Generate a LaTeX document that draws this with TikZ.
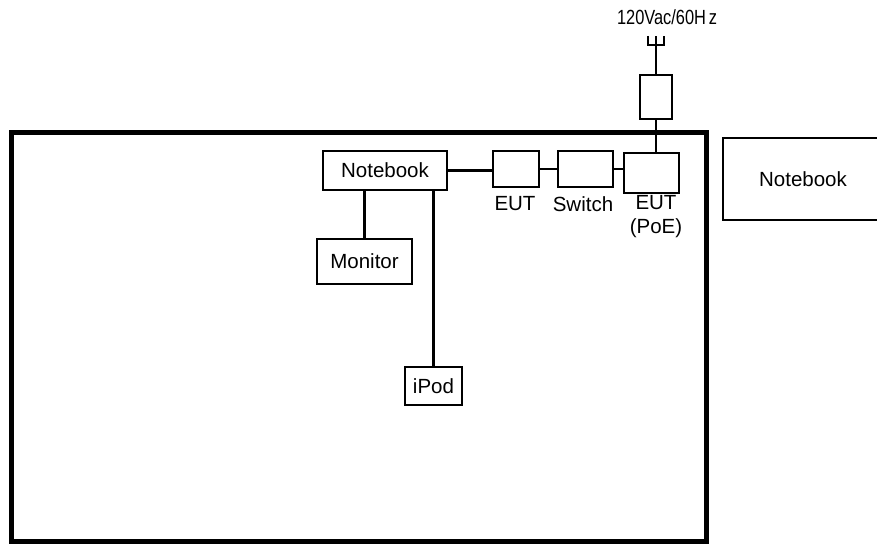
\documentclass[tikz,border=0pt]{standalone}
\usepackage{fontspec}
\setmainfont{Liberation Sans}
\usetikzlibrary{calc}
\begin{document}
\begin{tikzpicture}[x=1pt,y=-1pt,
  box/.style={draw=black,line width=2.2pt,rectangle,inner sep=0pt,font=\fontsize{20.5}{24}\selectfont},
  wire/.style={draw=black,line width=2.2pt},
  lbl/.style={font=\fontsize{20.5}{24}\selectfont,inner sep=0pt,align=center}]
\useasboundingbox (0,0) rectangle (877,545);
% outer frame
\draw[line width=5pt] (11.5,133) rectangle (706,541);
% nodes
\node[box,minimum width=124pt,minimum height=39pt] (nb1) at (385,170.5) {Notebook};
\node[box,minimum width=95pt,minimum height=45pt] (mon) at (364.5,261.5) {Monitor};
\node[box,minimum width=57pt,minimum height=38pt] (ipod) at (433.5,386) {iPod};
\node[box,minimum width=46pt,minimum height=36pt] (eut1) at (516,169) {};
\node[box,minimum width=55pt,minimum height=36pt] (sw) at (585.5,169) {};
\node[box,minimum width=55pt,minimum height=40pt] (poe) at (651.5,173) {};
\node[box,minimum width=32pt,minimum height=44pt] (filt) at (656,97) {};
\node[box,minimum width=160pt,minimum height=82pt] (nb2) at (803,179) {Notebook};
% labels
\node[lbl] (leut) at (515,204) {EUT};
\node[lbl] (lsw) at (583,204) {Switch};
\node[lbl] (lpoe) at (656,217) {EUT\\(PoE)};
\node[lbl] (lpow) at (667,17) {\scalebox{0.8}[1]{120Vac/60H\,z}};
% connectors
\draw[wire] (nb1.east) -- (nb1.east -| eut1.west);
\draw[wire] (eut1.east) -- (sw.west);
\draw[wire] (sw.east) -- (sw.east -| poe.west);
\draw[wire] (mon.north) -- (mon.north |- nb1.south);
\draw[wire] (ipod.north) -- (ipod.north |- nb1.south);
\draw[wire] (filt.south) -- (filt.south |- poe.north);
\coordinate (plug) at (656,45);
\draw[wire] (filt.north) -- (plug);
\draw[wire,line width=1.6pt] ($(plug)+(-8,-9)$) -- ($(plug)+(-8,0)$) -- ($(plug)+(8,0)$) -- ($(plug)+(8,-9)$);
\draw[wire,line width=1.6pt] (plug) -- ($(plug)+(0,-9)$);
\end{tikzpicture}
\end{document}
